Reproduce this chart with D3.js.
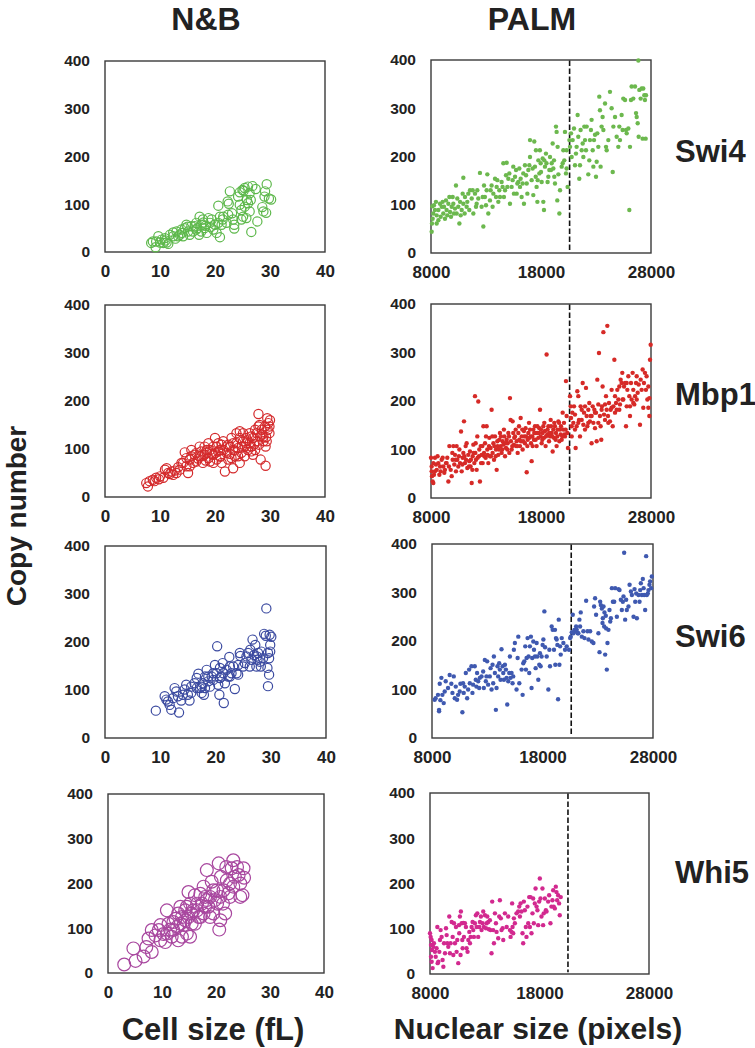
<!DOCTYPE html>
<html><head><meta charset="utf-8">
<script src="https://cdn.jsdelivr.net/npm/d3@7"></script>
<style>
html,body{margin:0;padding:0;background:#fff;}
text{font-family:"Liberation Sans",Arial,Helvetica,sans-serif;font-weight:bold;fill:#222;}
</style></head><body>
<script>
// ---------- data ----------
const proteins = ["Swi4", "Mbp1", "Swi6", "Whi5"];
const columnTitles = ["N&B", "PALM"];
const yTicks = [0, 100, 200, 300, 400];
const nbXTicks = [0, 10, 20, 30, 40];
const palmXTicks = [8000, 18000, 28000];
const nbXDomain = [0, 40];
const palmXDomain = [8000, 28000];
const yDomain = [0, 400];
const palmCutoff = 20600;
const xLabels = ["Cell size (fL)", "Nuclear size (pixels)"];
const yLabel = "Copy number";

const nbSwi4 = [[8.4,19],[9.2,10],[9.7,33],[9.3,22],[8.7,22],[10,20],[10.6,19],[10.3,26],[10.9,29],[11.2,20],[11.5,17],[11.8,36],[12.4,33],[12.4,41],[13,43],[13.3,33],[13.6,36],[13.9,47],[14.2,33],[14.5,50],[14.8,57],[15.1,43],[15.4,36],[15.7,54],[16,43],[16.3,54],[16.6,61],[16.6,47],[17.1,36],[17.2,74],[17.5,57],[17.5,43],[17.8,68],[18.1,50],[18.5,40],[18.8,71],[19.1,61],[19.4,68],[19.7,47],[20,57],[20.3,40],[20.6,61],[20.6,97],[20.9,31],[20.9,74],[21.2,57],[21.4,68],[21.5,74],[22.1,61],[22.3,106],[22.4,78],[22.5,101],[22.7,127],[23.1,81],[23.3,68],[23.5,57],[23.5,49],[24.2,116],[24.5,99],[24.8,88],[24.8,68],[25,130],[25.1,74],[25.4,134],[25.4,95],[25.7,71],[25.8,109],[26,137],[26,102],[26.3,85],[26.3,123],[26.5,109],[26.6,42],[27.4,132],[27.7,64],[28.6,94],[28.8,85],[29,116],[29.1,127],[29.4,142],[29.8,112],[30.2,110],[29.3,82],[24.5,125],[25.2,128],[26.8,138],[15,53],[16.8,50],[18.3,55],[19.2,52],[17.9,62],[14,40],[12.8,28],[11,24]];

const nbMbp1 = [[7.5,29],[7.8,22],[8.1,33],[8.7,36],[9.3,40],[10,43],[10.6,40],[10.9,57],[11.2,60],[11.5,50],[12.1,53],[12.4,46],[13,50],[13.6,57],[13.9,71],[14.5,93],[14.8,64],[15.1,50],[15.4,78],[15.7,85],[16,71],[16.3,88],[16.6,74],[17.2,105],[17.5,85],[17.8,71],[18.1,105],[18.5,92],[18.8,81],[19.1,74],[19.7,88],[20,123],[20.3,105],[20.6,95],[20.3,78],[20.9,85],[21.2,109],[21.5,98],[21.8,53],[22.1,92],[22.4,78],[22.7,105],[23,123],[23.3,98],[23.3,60],[23.6,85],[23.9,112],[24.2,102],[24.5,137],[24.5,71],[24.8,92],[25.1,116],[25.4,105],[25.7,123],[26,98],[26.3,112],[26.6,126],[26.9,88],[27.3,140],[27.6,116],[27.9,173],[28,109],[28.3,78],[28.5,140],[28.8,126],[29.1,147],[29.2,105],[29.4,116],[29.2,65],[29.5,164],[29.7,154],[29.9,133],[29.9,147],[30,160],[14.8,81],[15.7,98],[16.6,92],[17.2,85],[18.1,88],[19.1,98],[19.7,105],[20.6,112],[21.5,116],[22.4,109],[23.3,112],[23.9,133],[24.5,123],[25.1,133],[25.7,112],[26.3,133],[26.9,123],[27.6,133],[27.9,147],[28.2,126],[28.8,116],[20.9,98],[19.7,71],[18.5,98],[17.5,95],[15.4,64],[14.2,71],[21.2,71],[23,81],[24.2,85],[25.4,85],[26.6,105],[27.3,98],[22.1,105],[18.8,112],[9,33],[9.8,37],[11.8,48],[12.7,55],[13.3,62],[16.9,80],[18.3,76],[19.4,90],[20.1,92],[21,84],[22.7,90],[23.6,97],[24.9,105],[25.9,118],[26.6,95],[27.1,110],[28.6,130],[29.6,140],[29.3,125],[28.1,150]];

const nbSwi6 = [[9.2,57],[10.8,87],[11.1,80],[11.4,76],[11.7,69],[12,59],[12.6,104],[12.9,97],[13.2,87],[13.4,53],[13.8,78],[14.4,101],[14.7,111],[15,90],[15.3,78],[15.6,107],[16.2,114],[16.6,125],[16.9,134],[17.2,104],[17.5,94],[17.7,114],[17.9,90],[18.1,128],[18.4,142],[18.7,118],[19,107],[19.3,128],[19.6,121],[19.9,152],[20.2,135],[20.3,191],[20.5,111],[20.7,90],[20.8,146],[21.1,128],[21.3,156],[21.5,73],[21.7,114],[22,142],[22.3,128],[22.5,169],[22.6,149],[22.9,135],[23.5,102],[23.8,135],[24.1,152],[24.4,177],[24.5,171],[25,149],[25.6,170],[25.9,177],[26.2,149],[26.3,184],[26.7,205],[27,173],[27.2,194],[27.4,149],[27.6,163],[27.7,177],[28,159],[28.3,180],[28.6,166],[28.8,217],[29.1,213],[29.2,270],[29.4,146],[29.5,177],[29.5,108],[29.7,132],[29.7,166],[29.8,215],[29.9,194],[30.1,211],[29.9,180],[15.6,94],[16.6,104],[17.5,107],[18.1,104],[18.7,128],[19.6,135],[20.8,125],[21.4,135],[22.6,128],[23.2,149],[24.1,132],[25.3,156],[26.5,163],[27.5,170],[28.2,149],[12.3,83],[14.1,90]];

const nbWhi5 = [[3,19],[5.1,27],[4.7,55],[6.6,37],[7.1,58],[8.1,47],[7.5,77],[8.1,96],[8.8,84],[9.4,96],[9.7,107],[10.3,87],[10.6,69],[10.9,140],[11.2,110],[11.5,97],[11.8,81],[12.5,121],[12.8,103],[13,73],[13.4,148],[13.7,125],[14,107],[14.3,140],[14.6,88],[14.9,125],[14.9,181],[15.2,155],[15.2,81],[15.5,110],[15.8,140],[16.1,174],[16.5,155],[16.8,125],[17.1,177],[17.4,155],[17.7,193],[18,170],[18.3,230],[18.6,148],[18.9,170],[19.2,204],[19.5,133],[19.8,163],[20.2,185],[20.5,245],[20.6,97],[20.8,118],[20.9,215],[21.3,155],[21.7,133],[21.9,237],[22.3,178],[22.6,200],[22.9,234],[23.2,252],[23.5,215],[23.9,237],[24.2,219],[24.5,170],[24.5,200],[24.9,174],[25.1,234],[25.2,213],[9.7,73],[10.9,88],[12.1,96],[13.4,110],[14.3,118],[15.5,133],[16.5,140],[17.1,125],[18,148],[18.3,163],[19.5,185],[20.2,155],[21.4,185],[22,207],[23.2,193],[14.6,148],[16.1,110],[13.7,81],[17.7,133],[18.9,125],[20.8,170],[22.6,170],[12.1,114],[13,133]];

const palmSwi4 = [[8060,44],[8090,61],[8150,71],[8200,82],[8120,97],[8360,89],[8515,78],[8670,68],[8515,61],[8820,102],[8970,96],[9120,82],[9270,71],[9420,89],[9580,102],[9730,85],[9880,96],[10030,102],[10180,92],[10330,82],[10480,96],[10580,61],[10640,106],[10790,89],[10940,102],[10270,140],[10940,156],[11090,116],[11240,96],[11390,123],[11545,130],[11700,113],[11850,82],[12000,123],[12150,102],[12300,113],[12450,166],[12600,96],[12760,55],[12900,116],[13060,130],[13120,163],[13210,82],[13360,109],[13510,140],[13670,123],[13820,154],[13970,137],[14120,106],[14270,116],[14420,147],[14575,186],[14730,130],[14880,187],[15030,154],[15180,102],[15330,137],[15480,179],[15640,158],[15790,123],[15940,147],[16090,137],[16240,116],[16390,165],[16450,102],[16540,182],[16700,144],[16760,123],[16850,172],[17000,234],[17000,199],[17150,151],[17300,120],[17390,231],[17450,179],[17520,158],[17600,137],[17670,106],[17760,192],[17850,165],[17900,213],[17970,186],[18060,147],[18150,196],[18210,106],[18270,89],[18360,179],[18450,206],[18500,186],[18670,158],[18760,172],[18820,199],[18970,186],[19060,227],[19120,175],[19180,192],[19270,144],[19360,262],[19420,251],[19480,109],[19580,163],[19670,82],[19730,130],[19880,179],[20030,213],[20120,192],[20180,251],[20270,165],[20330,213],[20420,137],[20580,234],[20640,220],[20730,248],[20790,199],[20880,234],[21000,258],[21090,182],[21180,206],[21240,220],[21330,286],[21390,241],[21480,154],[21545,182],[21600,255],[21700,213],[21790,227],[21850,199],[21940,262],[22000,234],[22090,213],[22150,262],[22300,163],[22390,192],[22450,234],[22540,255],[22600,276],[22700,213],[22760,179],[22820,234],[22910,245],[23000,158],[23060,189],[23120,248],[23210,220],[23300,324],[23360,296],[23420,179],[23510,262],[23600,282],[23670,255],[23820,310],[23910,220],[23970,213],[24120,234],[24270,334],[24420,300],[24520,168],[24580,262],[24730,282],[24880,241],[25030,220],[25120,262],[25180,234],[25330,286],[25420,255],[25480,320],[25640,317],[25730,255],[25790,248],[25940,258],[26030,89],[26090,220],[26180,317],[26240,345],[26390,320],[26550,345],[26640,290],[26700,282],[26790,269],[26850,399],[26880,241],[26940,338],[27060,320],[27150,341],[27240,237],[27300,341],[27390,327],[27450,317],[27515,237],[27545,327],[8270,99],[8450,106],[8670,89],[8880,75],[9060,106],[9180,96],[9360,109],[9480,78],[9670,116],[9820,75],[9970,116],[10090,82],[10390,113],[10700,78],[10880,123],[11060,82],[11300,106],[11480,89],[11790,130],[12090,96],[12210,130],[12700,116],[12820,140],[13000,99],[13420,130],[13600,96],[13910,116],[14030,151],[14210,130],[14510,137],[14630,116],[14820,161],[14940,137],[15120,165],[15420,151],[15540,123],[15730,172],[15850,144],[16030,175],[16150,154],[16330,144],[16640,161],[16940,182],[17240,175],[17540,213],[17700,151],[18000,168],[18300,192],[18600,147],[18910,172],[19210,158],[19510,220],[19970,186],[20330,175]];

const palmMbp1 = [[8000,83],[8060,55],[8090,45],[8150,34],[8210,31],[8060,65],[8210,72],[8360,83],[8360,55],[8520,58],[8670,72],[8760,48],[8880,55],[8970,79],[9120,65],[9270,58],[9360,72],[9480,83],[9580,34],[9670,107],[9790,58],[9880,45],[9970,79],[10030,107],[10120,69],[10180,89],[10270,55],[10330,107],[10390,79],[10480,65],[10580,100],[10640,72],[10730,137],[10790,55],[10880,83],[10940,93],[11000,158],[11090,72],[11180,79],[11240,113],[11300,62],[11390,89],[11480,76],[11545,96],[11600,65],[11700,31],[11790,86],[11850,110],[11940,72],[12000,210],[12030,93],[12090,79],[12150,58],[12210,127],[12300,199],[12360,86],[12450,34],[12520,107],[12600,89],[12700,72],[12760,148],[12820,93],[12910,113],[12970,83],[13060,148],[13120,100],[13210,72],[13300,124],[13360,86],[13420,103],[13510,182],[13600,93],[13670,113],[13730,79],[13820,127],[13910,100],[13970,58],[14060,107],[14120,89],[14210,120],[14270,134],[14330,107],[14420,93],[14510,117],[14575,110],[14670,127],[14730,86],[14820,103],[14880,120],[14970,113],[15030,134],[15120,93],[15180,206],[15240,161],[15330,100],[15420,158],[15480,134],[15540,110],[15640,127],[15730,107],[15790,117],[15880,93],[15940,134],[16030,120],[16090,107],[16150,165],[16240,127],[16330,100],[16390,117],[16450,138],[16540,113],[16640,127],[16700,53],[16760,107],[16850,134],[16940,124],[17000,141],[17090,113],[17150,76],[17210,127],[17300,141],[17360,120],[17450,148],[17540,134],[17600,107],[17700,134],[17760,124],[17850,144],[17910,182],[17970,127],[18060,113],[18150,134],[18210,148],[18270,124],[18360,138],[18420,107],[18510,296],[18570,131],[18670,148],[18730,117],[18820,127],[18880,161],[18970,134],[19060,96],[19120,141],[19180,124],[19270,148],[19360,134],[19420,107],[19480,127],[19580,158],[19670,117],[19730,141],[19790,131],[19880,120],[19970,176],[20030,141],[20120,131],[20180,127],[20270,241],[20330,169],[20390,134],[20450,103],[20640,210],[20700,189],[20730,165],[20790,148],[20850,176],[20940,155],[21000,189],[21090,172],[21150,103],[21240,148],[21300,220],[21390,210],[21450,161],[21545,127],[21600,189],[21700,161],[21790,237],[21850,151],[21910,176],[22000,189],[22090,227],[22150,169],[22210,148],[22300,182],[22390,196],[22450,158],[22510,169],[22600,113],[22700,189],[22760,155],[22850,182],[22910,144],[23000,176],[23060,117],[23120,244],[23210,193],[23270,299],[23360,169],[23420,148],[23480,120],[23540,189],[23600,230],[23670,342],[23730,172],[23820,193],[23910,210],[23970,182],[24030,355],[24090,169],[24180,196],[24270,158],[24330,182],[24420,223],[24520,148],[24580,189],[24670,285],[24730,210],[24820,196],[24880,182],[24940,223],[25030,203],[25120,230],[25180,193],[25240,244],[25330,237],[25390,258],[25480,203],[25550,230],[25640,237],[25730,148],[25790,189],[25850,223],[25940,251],[26030,210],[26090,169],[26180,237],[26240,203],[26330,258],[26390,223],[26480,193],[26550,210],[26640,237],[26700,251],[26790,217],[26880,234],[27000,151],[27060,244],[27150,223],[27240,265],[27300,186],[27360,237],[27450,258],[27540,223],[27600,251],[27670,203],[27760,186],[27850,169],[27910,285],[27970,316],[27850,206],[27760,230],[8270,48],[8450,69],[8600,86],[8820,65],[9060,83],[9210,52],[9420,72],[9630,65],[9940,93],[10240,79],[10540,86],[10850,69],[11030,86],[11150,107],[11450,65],[11630,79],[11760,58],[11880,93],[12060,113],[12240,83],[12390,100],[12550,72],[12670,107],[12850,86],[13000,127],[13150,89],[13270,107],[13450,86],[13570,127],[13760,107],[13880,86],[14030,117],[14180,100],[14360,127],[14480,100],[14630,141],[14790,113],[14940,100],[15090,127],[15270,117],[15390,107],[15570,124],[15700,141],[15850,107],[16000,148],[16180,117],[16300,141],[16480,127],[16600,144],[16790,120],[16910,155],[17060,127],[17240,107],[17390,134],[17510,120],[17670,148],[17820,134],[18000,141],[18120,120],[18300,155],[18450,127],[18600,141],[18760,134],[18910,148],[19030,127],[19210,155],[19330,120],[19510,141],[19640,155],[19820,148],[19940,127],[20090,155],[20240,141],[20790,127],[21090,141],[21390,155],[21700,182],[22000,141],[22300,155],[22600,169],[22910,176],[23210,155],[23510,182],[23820,161],[24120,155],[24420,186],[24730,176],[25120,182],[25420,203],[25790,237],[26090,189],[26390,196],[26700,203]];

const palmSwi6 = [[8240,79],[8330,82],[8540,89],[8640,58],[8640,55],[8700,112],[8760,78],[8850,124],[8940,89],[9150,96],[9060,72],[9240,117],[9450,103],[9600,130],[9750,112],[9850,93],[9970,127],[10060,82],[10150,106],[10270,79],[10360,89],[10510,96],[10570,112],[10750,53],[10810,113],[10870,93],[10960,106],[11060,134],[11180,82],[11270,100],[11360,141],[11420,113],[11570,148],[11660,93],[11720,110],[11870,148],[11960,120],[12020,106],[12080,134],[12180,117],[12270,103],[12330,124],[12480,127],[12630,137],[12690,103],[12780,161],[12870,117],[12930,127],[12990,158],[13080,110],[13230,127],[13300,144],[13390,100],[13480,151],[13540,113],[13600,168],[13690,134],[13780,58],[13840,103],[13930,148],[13990,127],[14080,154],[14140,141],[14200,120],[14290,183],[14390,148],[14450,134],[14510,120],[14600,151],[14690,141],[14750,124],[14810,69],[14900,117],[14990,134],[15050,168],[15110,124],[15200,134],[15290,113],[15350,127],[15410,182],[15500,196],[15650,100],[15750,165],[15810,209],[15900,113],[16110,141],[16200,89],[16260,154],[16350,158],[16440,189],[16500,141],[16560,165],[16650,206],[16740,168],[16800,134],[16860,189],[16950,209],[17010,103],[17070,165],[17170,199],[17230,182],[17320,168],[17380,144],[17470,196],[17530,168],[17620,120],[17710,151],[17770,175],[17830,148],[17920,168],[18010,192],[18080,203],[18170,261],[18230,187],[18380,168],[18530,100],[18620,182],[18680,148],[18830,230],[18920,223],[19040,182],[19130,223],[19160,151],[19220,206],[19280,203],[19350,192],[19410,80],[19470,244],[19530,151],[19590,189],[19650,172],[19740,206],[19890,196],[20040,182],[20190,189],[20400,182],[20500,206],[20560,209],[20650,218],[20740,254],[20800,216],[20890,223],[20950,220],[21040,230],[21100,223],[21190,216],[21250,216],[21340,244],[21400,230],[21460,259],[21560,209],[21700,220],[21800,206],[21950,283],[22070,220],[22160,203],[22310,220],[22460,199],[22610,196],[22670,271],[22760,288],[22850,254],[23060,216],[23160,177],[23220,281],[23280,274],[23370,267],[23430,237],[23460,247],[23520,271],[23580,230],[23610,259],[23670,172],[23730,252],[23760,226],[23820,141],[23880,196],[23970,223],[24060,264],[24130,240],[24190,247],[24280,309],[24370,281],[24490,281],[24580,309],[24730,250],[24880,307],[24970,305],[25090,285],[25180,264],[25270,281],[25330,292],[25390,382],[25480,244],[25570,285],[25630,264],[25780,271],[25880,316],[26000,302],[26090,295],[26240,250],[26330,307],[26390,281],[26480,298],[26540,247],[26690,295],[26780,281],[26840,305],[26900,319],[26990,295],[27080,328],[27150,309],[27200,295],[27290,264],[27380,375],[27440,295],[27530,298],[27590,305],[27680,316],[27740,323],[27830,309],[27890,333]];

const palmWhi5 = [[8000,90],[8060,82],[8150,75],[8090,64],[8180,53],[8090,38],[8150,27],[8240,13],[8300,60],[8360,68],[8450,49],[8520,38],[8600,57],[8670,104],[8700,24],[8760,27],[8850,49],[8910,75],[8970,97],[9060,82],[9150,31],[9220,16],[9280,68],[9370,46],[9460,101],[9520,86],[9580,68],[9670,60],[9760,127],[9820,46],[9880,68],[9980,115],[10070,82],[10130,42],[10190,112],[10280,68],[10370,104],[10430,49],[10490,75],[10580,24],[10640,108],[10670,90],[10730,127],[10790,42],[10820,138],[10890,112],[10950,75],[10980,57],[11040,113],[11100,82],[11190,112],[11280,104],[11340,57],[11430,49],[11500,75],[11590,93],[11650,68],[11710,82],[11800,104],[11890,115],[11950,97],[12010,82],[12100,112],[12190,130],[12260,104],[12320,134],[12400,82],[12500,104],[12560,115],[12650,127],[12710,97],[12800,112],[12860,138],[12920,104],[13020,130],[13110,101],[13170,112],[13230,127],[13320,115],[13380,99],[13470,119],[13530,97],[13620,46],[13680,160],[13770,97],[13840,68],[13930,134],[14020,112],[14080,93],[14230,79],[14320,127],[14380,163],[14470,123],[14530,97],[14630,101],[14690,75],[14840,134],[15000,104],[15140,127],[15300,97],[15360,82],[15450,93],[15500,156],[15540,104],[15600,90],[15660,123],[15750,112],[15900,134],[16050,138],[16150,149],[16210,127],[16270,156],[16360,138],[16450,90],[16510,68],[16570,160],[16660,141],[16750,104],[16810,82],[16900,149],[16970,112],[17060,170],[17120,104],[17180,170],[17270,90],[17360,134],[17420,167],[17480,112],[17570,156],[17640,189],[17730,149],[17810,141],[17880,108],[17970,160],[18030,211],[18090,167],[18180,127],[18270,189],[18330,108],[18390,134],[18490,167],[18580,141],[18640,138],[18790,160],[18880,174],[19000,112],[19090,149],[19180,163],[19250,185],[19300,149],[19400,145],[19490,193],[19550,181],[19610,163],[19700,174],[19790,156],[19850,130],[19940,170]];

const nbData = [nbSwi4, nbMbp1, nbSwi6, nbWhi5];
const palmData = [palmSwi4, palmMbp1, palmSwi6, palmWhi5];
const nbColors = ["#5db84b", "#d42a2c", "#3b4aa0", "#a8479f"];
const palmColors = ["#6cb84e", "#d62a27", "#3f59b0", "#d2298f"];
const nbRadius = [4.6, 4.6, 4.6, 6.4];

// ---------- layout ----------
const W = 755, H = 1048;
const layout = [
  {nb:[105,325,61,252],  palm:[431,651,60,253],  labelY:162},
  {nb:[105,325,305,497], palm:[431,651,304,498], labelY:405},
  {nb:[105,326,546,738], palm:[432,653,544,738], labelY:647},
  {nb:[108,324,794,973], palm:[430,649,793,974], labelY:883}
];

const svg = d3.select("body").append("svg").attr("width", W).attr("height", H);

function drawPanel(box, xDomain, xTicks, data, kind, color, r) {
  const [x0, x1, y0, y1] = box;
  const x = d3.scaleLinear().domain(xDomain).range([x0, x1]);
  const y = d3.scaleLinear().domain(yDomain).range([y1, y0]);
  const g = svg.append("g");
  g.append("rect").attr("x", x0).attr("y", y0).attr("width", x1 - x0).attr("height", y1 - y0)
    .attr("fill", "none").attr("stroke", "#3a3a3a").attr("stroke-width", 1.4);

  const ya = g.append("g").attr("transform", `translate(${x0},0)`)
    .call(d3.axisLeft(y).tickValues(yTicks).tickSize(0).tickPadding(15).tickFormat(d3.format("d")));
  ya.select(".domain").remove();
  ya.selectAll("text").style("font-size", "15.5px").style("font-family", '"Liberation Sans",Arial,sans-serif').style("font-weight", "bold").attr("fill", "#222");

  const xa = g.append("g").attr("transform", `translate(0,${y1})`)
    .call(d3.axisBottom(x).tickValues(xTicks).tickSize(0).tickPadding(13).tickFormat(d3.format("d")));
  xa.select(".domain").remove();
  xa.selectAll("text").style("font-size", "17px").style("font-family", '"Liberation Sans",Arial,sans-serif').style("font-weight", "bold").attr("fill", "#222");

  if (kind === "palm") {
    g.append("line").attr("x1", x(palmCutoff)).attr("x2", x(palmCutoff))
      .attr("y1", y(399)).attr("y2", y(4))
      .attr("stroke", "#111").attr("stroke-width", 1.6).attr("stroke-dasharray", "5.5,2.5");
    g.append("g").selectAll("circle").data(data).join("circle")
      .attr("cx", d => x(d[0])).attr("cy", d => y(d[1])).attr("r", 2.2)
      .attr("fill", color);
  } else {
    g.append("g").selectAll("circle").data(data).join("circle")
      .attr("cx", d => x(d[0])).attr("cy", d => y(d[1])).attr("r", r)
      .attr("fill", "none").attr("stroke", color).attr("stroke-width", 1.2);
  }
}

layout.forEach((L, i) => {
  drawPanel(L.nb, nbXDomain, nbXTicks, nbData[i], "nb", nbColors[i], nbRadius[i]);
  drawPanel(L.palm, palmXDomain, palmXTicks, palmData[i], "palm", palmColors[i], 2.2);
  svg.append("text").attr("x", 675).attr("y", L.labelY).style("font-size", "31px").text(proteins[i]);
});

// column titles
svg.append("text").attr("x", 206).attr("y", 29.5).attr("text-anchor", "middle").style("font-size", "32px").text(columnTitles[0]);
svg.append("text").attr("x", 532).attr("y", 29.5).attr("text-anchor", "middle").style("font-size", "32px").text(columnTitles[1]);

// axis titles
svg.append("text").attr("x", 213).attr("y", 1040).attr("text-anchor", "middle").style("font-size", "31px").text(xLabels[0]);
svg.append("text").attr("x", 538).attr("y", 1039).attr("text-anchor", "middle").style("font-size", "30px").text(xLabels[1]);
svg.append("text").attr("transform", "translate(26,516) rotate(-90)").attr("text-anchor", "middle").style("font-size", "28px").text(yLabel);
</script>
</body></html>
